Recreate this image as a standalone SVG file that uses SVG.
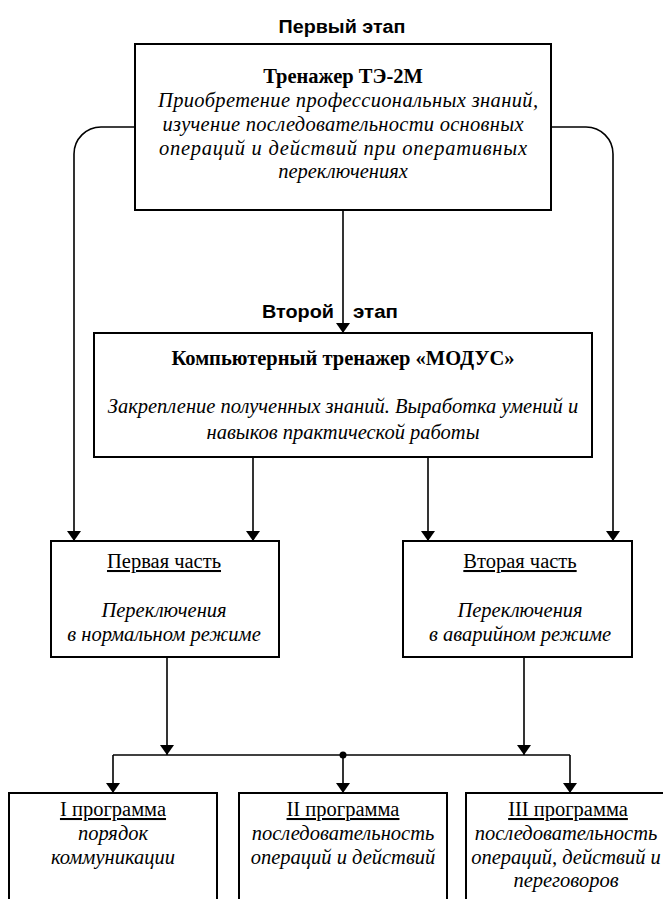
<svg xmlns="http://www.w3.org/2000/svg" width="663" height="899" viewBox="0 0 663 899">
<defs>
<marker id="arr" viewBox="0 0 10 14" refX="10" refY="7" markerWidth="10" markerHeight="14" markerUnits="userSpaceOnUse" orient="auto">
<path d="M0,0 L10,7 L0,14 Z" fill="#000"/>
</marker>
<style>
.box{fill:#fff;stroke:#000;stroke-width:2}
.ln{fill:none;stroke:#000;stroke-width:1.6}
.st{font-family:"Liberation Sans",Arial,sans-serif;font-weight:bold;font-size:18px;fill:#000}
.tb{font-family:"Liberation Serif","Times New Roman",serif;font-weight:bold;font-size:20.5px;fill:#000;text-anchor:middle}
.ti{font-family:"Liberation Serif","Times New Roman",serif;font-style:italic;font-size:20.5px;fill:#000;text-anchor:middle}
.tu{font-family:"Liberation Serif","Times New Roman",serif;font-size:20.5px;fill:#000;text-anchor:middle;text-decoration:underline}
</style>
</defs>
<rect width="663" height="899" fill="#fff"/>

<text class="st" x="342" y="33" text-anchor="middle" textLength="127" lengthAdjust="spacingAndGlyphs">Первый этап</text>
<text class="st" x="334" y="318" text-anchor="end" textLength="72" lengthAdjust="spacingAndGlyphs">Второй</text>
<text class="st" x="353" y="318" textLength="45" lengthAdjust="spacingAndGlyphs">этап</text>

<g id="connectors">
<path class="ln" d="M343,210 V333" marker-end="url(#arr)"/>
<path class="ln" d="M135,127 H101 A27,27 0 0 0 74,154 V541" marker-end="url(#arr)"/>
<path class="ln" d="M551,127 H586 A27,27 0 0 1 613,154 V541" marker-end="url(#arr)"/>
<path class="ln" d="M253,457 V541" marker-end="url(#arr)"/>
<path class="ln" d="M428,457 V541" marker-end="url(#arr)"/>
<path class="ln" d="M167,657 V755" marker-end="url(#arr)"/>
<path class="ln" d="M524,657 V755" marker-end="url(#arr)"/>
<path class="ln" d="M113,755 H570"/>
<path class="ln" d="M113,755 V793" marker-end="url(#arr)"/>
<path class="ln" d="M343,755 V793" marker-end="url(#arr)"/>
<path class="ln" d="M570,755 V793" marker-end="url(#arr)"/>
<circle cx="343" cy="755" r="3.5" fill="#000"/>
</g>

<g id="stage1">
<rect class="box" x="135" y="44" width="416" height="166"/>
<text class="tb" x="343" y="83">Тренажер ТЭ-2М</text>
<text class="ti" x="348" y="107" textLength="380" lengthAdjust="spacing">Приобретение профессиональных знаний,</text>
<text class="ti" x="343" y="131" textLength="361" lengthAdjust="spacing">изучение последовательности основных</text>
<text class="ti" x="343" y="155" textLength="368" lengthAdjust="spacing">операций и действий при оперативных</text>
<text class="ti" x="343" y="178">переключениях</text>
</g>

<g id="stage2">
<rect class="box" x="94" y="333" width="498" height="124"/>
<text class="tb" x="343" y="365">Компьютерный тренажер «МОДУС»</text>
<text class="ti" x="343" y="413">Закрепление полученных знаний. Выработка умений и</text>
<text class="ti" x="343" y="439">навыков практической работы</text>
</g>

<g id="part1">
<rect class="box" x="51" y="541" width="228" height="116"/>
<text class="tu" x="164" y="568">Первая часть</text>
<text class="ti" x="164" y="617">Переключения</text>
<text class="ti" x="164" y="641">в нормальном режиме</text>
</g>

<g id="part2">
<rect class="box" x="403" y="541" width="229" height="116"/>
<text class="tu" x="520" y="568">Вторая часть</text>
<text class="ti" x="520" y="617">Переключения</text>
<text class="ti" x="520" y="641">в аварийном режиме</text>
</g>

<g id="prog1">
<rect class="box" x="9" y="793" width="208" height="150"/>
<text class="tu" x="113" y="816">I программа</text>
<text class="ti" x="113" y="840">порядок</text>
<text class="ti" x="113" y="864">коммуникации</text>
</g>

<g id="prog2">
<rect class="box" x="239" y="793" width="208" height="150"/>
<text class="tu" x="343" y="816">II программа</text>
<text class="ti" x="343" y="840">последовательность</text>
<text class="ti" x="343" y="864">операций и действий</text>
</g>

<g id="prog3">
<rect class="box" x="466" y="793" width="230" height="150"/>
<text class="tu" x="568" y="816">III программа</text>
<text class="ti" x="566" y="840">последовательность</text>
<text class="ti" x="566" y="864">операций, действий и</text>
<text class="ti" x="566" y="887">переговоров</text>
</g>
</svg>
